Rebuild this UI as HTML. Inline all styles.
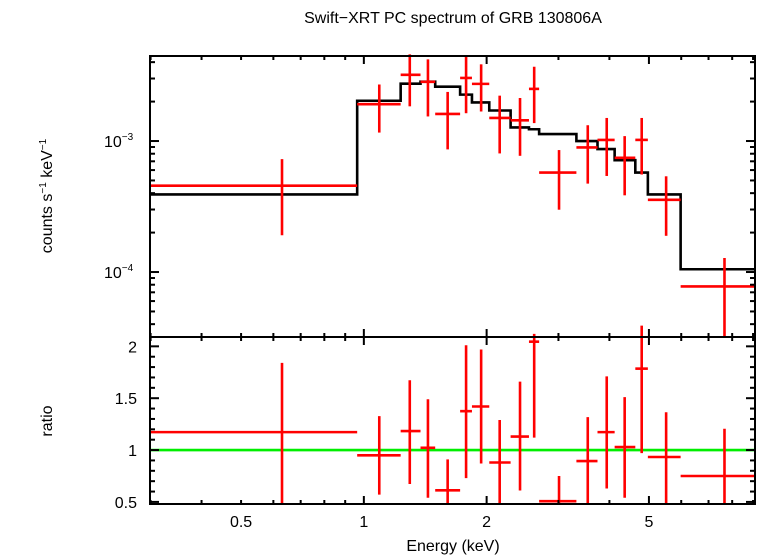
<!DOCTYPE html>
<html><head><meta charset="utf-8"><style>
html,body{margin:0;padding:0;background:#fff;}
svg{display:block;font-family:"Liberation Sans",sans-serif;}
</style></head><body>
<svg id="chart" width="758" height="556" viewBox="0 0 758 556" xmlns="http://www.w3.org/2000/svg">
<text x="453" y="23" font-size="16" text-anchor="middle">Swift−XRT PC spectrum of GRB 130806A</text>
<text transform="translate(52,196) rotate(-90)" font-size="16" text-anchor="middle">counts s<tspan font-size="10" dy="-6">−1</tspan><tspan dy="6"> keV</tspan><tspan font-size="10" dy="-6">−1</tspan></text>
<text transform="translate(52,421) rotate(-90)" font-size="16" text-anchor="middle">ratio</text>
<text x="453" y="551" font-size="16" text-anchor="middle">Energy (keV)</text>
<g id="topPanel"></g>
<g id="botPanel"></g>
</svg>
<script>
const binEdges=[0.299,0.963,1.231,1.377,1.496,1.722,1.841,2.03,2.29,2.54,2.69,3.32,3.74,4.12,4.63,4.97,5.98,9.2];
const binCenters=[0.630,1.091,1.296,1.436,1.605,1.781,1.939,2.153,2.415,2.616,3.01,3.54,3.94,4.36,4.80,5.51,7.66];
const rateValues=[4.56e-4,1.91e-3,3.20e-3,2.83e-3,1.61e-3,3.03e-3,2.73e-3,1.50e-3,1.44e-3,2.50e-3,5.74e-4,8.94e-4,1.02e-3,7.44e-4,1.02e-3,3.56e-4,7.76e-5];
const rateHigh=[7.27e-4,2.70e-3,4.59e-3,4.2e-3,2.37e-3,4.5e-3,3.85e-3,2.22e-3,2.13e-3,3.69e-3,8.53e-4,1.32e-3,1.50e-3,1.09e-3,1.50e-3,5.38e-4,1.28e-4];
const rateLow=[1.91e-4,1.16e-3,1.84e-3,1.54e-3,8.63e-4,1.63e-3,1.68e-3,8.04e-4,7.71e-4,1.37e-3,2.99e-4,4.73e-4,5.41e-4,3.85e-4,5.55e-4,1.89e-4,1e-5];
const modelValues=[3.91e-4,2.03e-3,2.74e-3,2.84e-3,2.60e-3,2.26e-3,1.97e-3,1.71e-3,1.27e-3,1.23e-3,1.13e-3,1.00e-3,8.68e-4,7.14e-4,5.74e-4,3.91e-4,1.05e-4];
const ratioValues=[1.173,0.949,1.183,1.022,0.612,1.375,1.42,0.88,1.13,2.045,0.507,0.894,1.173,1.029,1.785,0.933,0.75];
const ratioHigh=[1.84,1.327,1.673,1.49,0.91,2.01,1.97,1.29,1.66,2.12,0.75,1.317,1.71,1.51,2.2,1.365,1.205];
const ratioLow=[0.49,0.57,0.673,0.54,0.45,0.73,0.87,0.47,0.61,1.12,0.45,0.47,0.63,0.54,0.97,0.47,0.45];
const xTickLabels=["0.5","1","2","5"];
const xTickVals=[0.5,1,2,5];
const yTopTickLabels=["10","10"];
const yTopTickExp=["−3","−4"];
const yTopTickVals=[1e-3,1e-4];
const ratioTickLabels=["0.5","1","1.5","2"];
const ratioTickVals=[0.5,1,1.5,2];

const L=150,R=755,T1=56,B1=337,T2=337,B2=504;
const xMin=0.299,xMax=9.1;
const X=e=>L+(Math.log10(e)-Math.log10(xMin))/(Math.log10(xMax)-Math.log10(xMin))*(R-L);
const yTopMax=-2.351,yTopMin=-4.496;
const Y1=v=>T1+(yTopMax-Math.log10(v))/(yTopMax-yTopMin)*(B1-T1);
const rMin=0.48,rMax=2.09;
const Y2=v=>T2+(rMax-v)/(rMax-rMin)*(B2-T2);
const NS="http://www.w3.org/2000/svg";
function mk(parent,tag,attrs){const el=document.createElementNS(NS,tag);for(const k in attrs)el.setAttribute(k,attrs[k]);parent.appendChild(el);return el;}
function clamp(v,a,b){return Math.max(a,Math.min(b,v));}
const svgEl=document.getElementById('chart');
const panelTop=document.getElementById('topPanel'),panelBot=document.getElementById('botPanel');

let d="";
for(let i=0;i<modelValues.length;i++){
  const y=Y1(modelValues[i]);
  const x0=X(binEdges[i]),x1=Math.min(X(binEdges[i+1]),R);
  d+=(i===0?"M":"L")+x0+","+y+" L"+x1+","+y+" ";
}
const model=mk(panelTop,'path',{d:d,fill:'none',stroke:'#000','stroke-width':2.6});



for(let i=0;i<rateValues.length;i++){
  const g=mk(panelTop,'g',{stroke:'#ff0000','stroke-width':2.6});
  
  
  const y=Y1(rateValues[i]),xc=X(binCenters[i]);
  mk(g,'line',{x1:X(binEdges[i]),x2:Math.min(X(binEdges[i+1]),R),y1:y,y2:y});
  mk(g,'line',{x1:xc,x2:xc,y1:clamp(Y1(rateHigh[i]),T1-10,B1),y2:clamp(Y1(rateLow[i]),T1,B1)});
}
const gl=mk(panelBot,'line',{x1:L,x2:R,y1:Y2(1),y2:Y2(1),stroke:'#00ee00','stroke-width':2.6});


for(let i=0;i<ratioValues.length;i++){
  const g=mk(panelBot,'g',{stroke:'#ff0000','stroke-width':2.6});
  
  
  const y=Y2(ratioValues[i]),xc=X(binCenters[i]);
  mk(g,'line',{x1:X(binEdges[i]),x2:Math.min(X(binEdges[i+1]),R),y1:y,y2:y});
  mk(g,'line',{x1:xc,x2:xc,y1:clamp(Y2(ratioHigh[i]),T2-12,B2),y2:clamp(Y2(ratioLow[i]),T2,B2)});
}
const axes=mk(svgEl,'g',{stroke:'#000','stroke-width':2,fill:'none'});


mk(axes,'rect',{x:L,y:T1,width:R-L,height:B1-T1});
mk(axes,'rect',{x:L,y:T2,width:R-L,height:B2-T2});
const minorX=[0.3,0.4,0.6,0.7,0.8,0.9,3,4,6,7,8,9];
[[T1,B1],[T2,B2]].forEach(([t,b])=>{
  minorX.forEach(e=>{const x=X(e);if(x>R)return;mk(axes,'line',{x1:x,x2:x,y1:t,y2:t+4});mk(axes,'line',{x1:x,x2:x,y1:b,y2:b-4});});
  [0.5,1,2,5].forEach(e=>{const x=X(e);const len=(e===1||e===2||e===5)?8:4;mk(axes,'line',{x1:x,x2:x,y1:t,y2:t+len});mk(axes,'line',{x1:x,x2:x,y1:b,y2:b-len});});
});
for(let dec=-5;dec<=-3;dec++){for(let m=1;m<10;m++){const v=m*Math.pow(10,dec);const y=Y1(v);if(y<T1||y>B1)continue;const len=m===1?9:5;mk(axes,'line',{x1:L,x2:L+len,y1:y,y2:y});mk(axes,'line',{x1:R,x2:R-len,y1:y,y2:y});}}
for(let k=5;k<=20;k++){const v=k/10;const y=Y2(v);const len=(k%5===0)?9:5;mk(axes,'line',{x1:L,x2:L+len,y1:y,y2:y});mk(axes,'line',{x1:R,x2:R-len,y1:y,y2:y});}
xTickVals.forEach((v,i)=>{const t=mk(svgEl,'text',{x:X(v),y:527,'font-size':16,'text-anchor':'middle'});t.textContent=xTickLabels[i];

});
yTopTickVals.forEach((v,i)=>{const t=mk(svgEl,'text',{x:104,y:Y1(v)+6,'font-size':16});t.textContent=yTopTickLabels[i];const s=mk(t,'tspan',{'font-size':10,dy:-7});s.textContent=yTopTickExp[i];

});
ratioTickVals.forEach((v,i)=>{const t=mk(svgEl,'text',{x:137,y:Y2(v)+6,'font-size':16,'text-anchor':'end'});t.textContent=ratioTickLabels[i];

});
</script>
</body></html>
